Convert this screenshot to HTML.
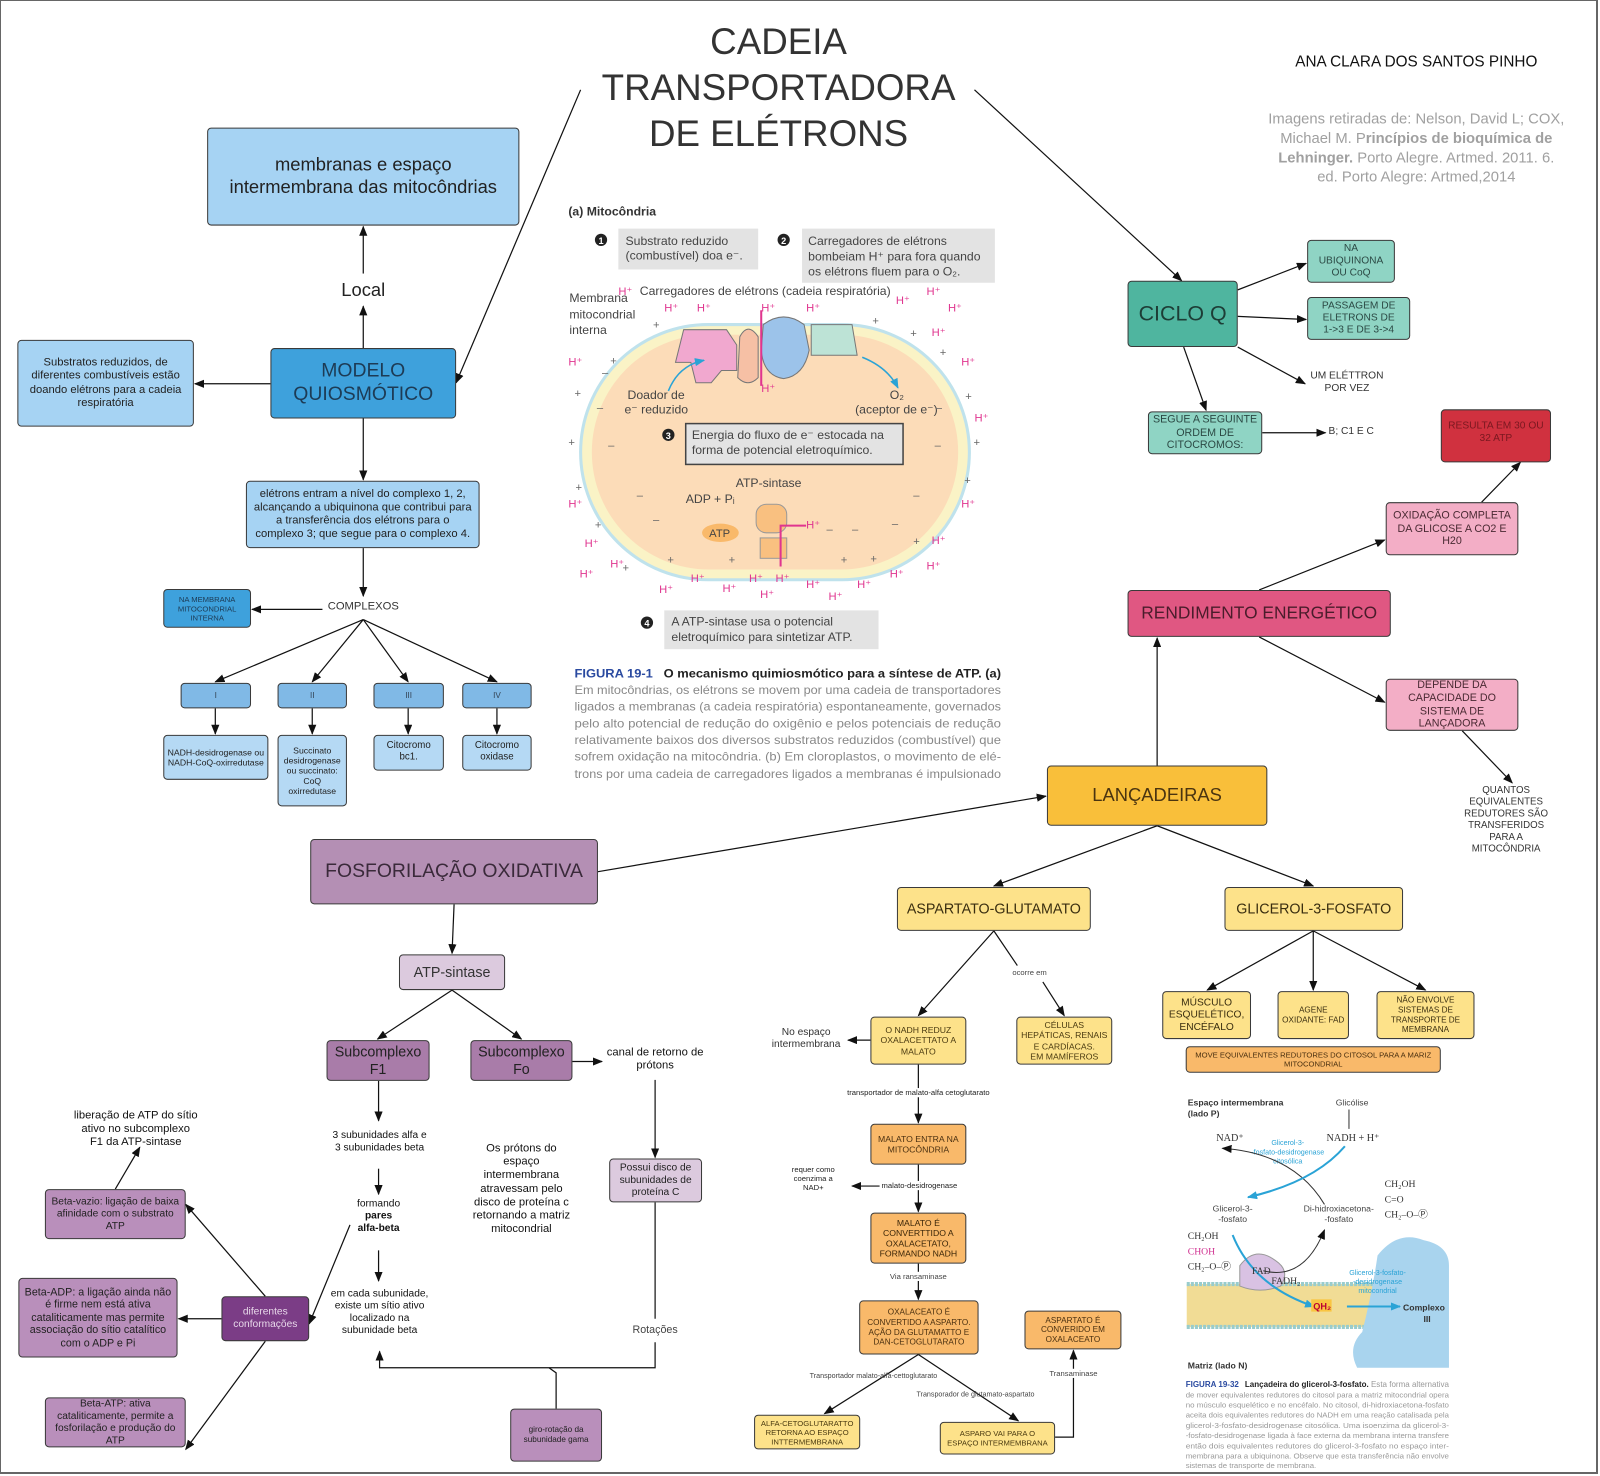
<!DOCTYPE html>
<html><head><meta charset="utf-8">
<style>
html,body{margin:0;padding:0;background:#fff;}
body{width:1600px;height:1476px;overflow:hidden;position:relative;font-family:"Liberation Sans",Arial,sans-serif;}
#frame{position:absolute;left:0;top:0;width:1598px;height:1474px;border:1px solid #666;border-width:1px 2px 2px 1px;box-sizing:border-box;}
#c{position:absolute;left:0;top:0;width:1568px;height:1446px;transform:scale(1.0204,1.0207);transform-origin:0 0;}
.b{position:absolute;display:flex;align-items:center;justify-content:center;text-align:center;box-sizing:border-box;border:1.5px solid #3a3a3a;border-radius:4px;color:#222;line-height:1.2;}
.t{position:absolute;text-align:center;color:#222;line-height:1.2;white-space:nowrap;}
svg{position:absolute;left:0;top:0;}
.lb{background:#a6d3f3;} .mb{background:#3ea1dc;} .cb{background:#80b9e6;} .sb{background:#b5d9f4;}
.tq{background:#8fd4c4;} .ph{background:#f3aec6;} .ye{background:#fde28a;} .or{background:#f9b96a;} .pu{background:#b48fb4;} .lp{background:#dccade;} .dp{background:#a97ca9;}
.fig{font-family:"Liberation Sans",sans-serif;}
</style></head><body>
<div id="frame"></div>
<div id="c">
<svg width="1568" height="1446" viewBox="0 0 1568 1446">
<defs><marker id="a" markerWidth="10" markerHeight="8" refX="9" refY="4" orient="auto" markerUnits="userSpaceOnUse"><path d="M0,0 L10,4 L0,8 z" fill="#111"/></marker>
<marker id="bl" markerWidth="10" markerHeight="8" refX="9" refY="4" orient="auto" markerUnits="userSpaceOnUse"><path d="M0,0 L10,4 L0,8 z" fill="#2aa3d6"/></marker></defs>
<g stroke="#111" stroke-width="1.2" fill="none" marker-end="url(#a)">
<line x1="569" y1="88" x2="447" y2="375"/>
<line x1="955" y1="88" x2="1158" y2="275"/>
<line x1="356" y1="341" x2="356" y2="300"/>
<line x1="356" y1="268" x2="356" y2="222"/>
<line x1="265" y1="376" x2="191" y2="376"/>
<line x1="356" y1="410" x2="356" y2="470"/>
<line x1="356" y1="537" x2="356" y2="584"/>
<line x1="316" y1="597" x2="247" y2="597"/>
<line x1="356" y1="607" x2="211" y2="668"/>
<line x1="356" y1="607" x2="306" y2="668"/>
<line x1="356" y1="607" x2="400" y2="668"/>
<line x1="356" y1="607" x2="487" y2="668"/>
<line x1="211" y1="694" x2="211" y2="719"/>
<line x1="306" y1="694" x2="306" y2="719"/>
<line x1="400" y1="694" x2="400" y2="719"/>
<line x1="487" y1="694" x2="487" y2="719"/>
<line x1="1213" y1="284" x2="1280" y2="258"/>
<line x1="1213" y1="310" x2="1280" y2="313"/>
<line x1="1213" y1="340" x2="1279" y2="376"/>
<line x1="1160" y1="340" x2="1182" y2="402"/>
<line x1="1237" y1="424" x2="1299" y2="424"/>
<line x1="1134" y1="750" x2="1134" y2="625"/>
<line x1="1234" y1="578" x2="1357" y2="529"/>
<line x1="1452" y1="492" x2="1490" y2="453"/>
<line x1="1234" y1="624" x2="1357" y2="688"/>
<line x1="1433" y1="716" x2="1482" y2="767"/>
<line x1="586" y1="854" x2="1025" y2="780"/>
<line x1="1134" y1="809" x2="974" y2="868"/>
<line x1="1134" y1="809" x2="1287" y2="868"/>
<line x1="974" y1="912" x2="900" y2="995"/>
<line x1="1022" y1="962" x2="1043" y2="995"/>
<line x1="853" y1="1019" x2="831" y2="1019"/>
<line x1="900" y1="1043" x2="900" y2="1100"/>
<line x1="900" y1="1141" x2="900" y2="1187"/>
<line x1="870" y1="1162" x2="835" y2="1162"/>
<line x1="900" y1="1238" x2="900" y2="1273"/>
<line x1="900" y1="1327" x2="808" y2="1385"/>
<line x1="900" y1="1327" x2="998" y2="1392"/>
<polyline points="1034,1408 1052,1408 1052,1323"/>
<line x1="1287" y1="912" x2="1183" y2="970"/>
<line x1="1287" y1="912" x2="1287" y2="970"/>
<line x1="1287" y1="912" x2="1397" y2="970"/>
<line x1="445" y1="886" x2="443" y2="934"/>
<line x1="443" y1="970" x2="370" y2="1018"/>
<line x1="443" y1="970" x2="511" y2="1018"/>
<line x1="561" y1="1040" x2="590" y2="1040"/>
<line x1="642" y1="1058" x2="642" y2="1134"/>
<polyline points="642,1315 642,1340 372,1340 372,1324"/>
<line x1="371" y1="1059" x2="371" y2="1098"/>
<line x1="371" y1="1145" x2="371" y2="1170"/>
<line x1="371" y1="1225" x2="371" y2="1255"/>
<line x1="343" y1="1200" x2="303" y2="1297"/>
<line x1="260" y1="1270" x2="182" y2="1180"/>
<line x1="113" y1="1165" x2="137" y2="1124"/>
<line x1="217" y1="1292" x2="175" y2="1292"/>
<line x1="260" y1="1314" x2="182" y2="1420"/>
</g>
<g stroke="#111" stroke-width="1.2" fill="none">
<line x1="974" y1="912" x2="997" y2="946"/>
<line x1="642" y1="1178" x2="642" y2="1292"/>
<polyline points="545,1380 545,1345 538,1340"/>
</g>

<!-- Mitochondrion figure -->
<g class="fig">
<text x="557" y="211" font-size="12" font-weight="bold" fill="#333">(a)  Mitocôndria</text>
<rect x="606" y="224" width="137" height="40" fill="#e3e3e3"/>
<rect x="786" y="224" width="189" height="53" fill="#e3e3e3"/>
<circle cx="589" cy="235" r="6" fill="#222"/><circle cx="768" cy="235" r="6" fill="#222"/>
<text x="589" y="239" font-size="9" fill="#fff" text-anchor="middle" font-weight="bold">1</text>
<text x="768" y="239" font-size="9" fill="#fff" text-anchor="middle" font-weight="bold">2</text>
<text font-size="12" fill="#444"><tspan x="613" y="240">Substrato reduzido</tspan><tspan x="613" y="254">(combustível) doa e⁻.</tspan></text>
<text font-size="12" fill="#444"><tspan x="792" y="240">Carregadores de elétrons</tspan><tspan x="792" y="255">bombeiam H⁺ para fora quando</tspan><tspan x="792" y="270">os elétrons fluem para o O₂.</tspan></text>
<rect x="569" y="318" width="381" height="250" rx="125" fill="#faf3c6" stroke="#bfe2ec" stroke-width="3"/>
<rect x="580" y="328" width="359" height="230" rx="115" fill="#fcdcb8"/>
<text font-size="12" fill="#444"><tspan x="558" y="296">Membrana</tspan><tspan x="558" y="312">mitocondrial</tspan><tspan x="558" y="327">interna</tspan></text>
<text x="627" y="289" font-size="12" fill="#444">Carregadores de elétrons (cadeia respiratória)</text>
<path d="M670,323 h42 l10,15 v25 h-15 l-10,12 h-15 l-5,-20 h-15 z" fill="#f1a8cf" stroke="#777"/>
<path d="M725,330 q8,-15 18,0 v40 q-10,10 -20,0 z" fill="#f6c0a5" stroke="#777"/>
<path d="M748,318 q20,-15 40,0 l5,25 q-5,25 -25,28 q-20,-3 -22,-28 z" fill="#9cc3ea" stroke="#777"/>
<path d="M795,318 h40 l5,30 h-45 z" fill="#bde3d6" stroke="#777"/>
<line x1="746" y1="378" x2="746" y2="304" stroke="#e0358f" stroke-width="2"/>
<text font-size="12" fill="#444"><tspan x="615" y="391">Doador de</tspan><tspan x="612" y="405">e⁻ reduzido</tspan></text>
<text font-size="12" fill="#444"><tspan x="872" y="391">O₂</tspan><tspan x="838" y="405">(aceptor de e⁻)</tspan></text>
<path d="M655,383 q10,-25 35,-30" stroke="#2aa3d6" fill="none" stroke-width="1.5" marker-end="url(#bl)"/>
<path d="M845,350 q25,10 35,30" stroke="#2aa3d6" fill="none" stroke-width="1.5" marker-end="url(#bl)"/>
<circle cx="655" cy="426" r="6" fill="#222"/><text x="655" y="430" font-size="9" fill="#fff" text-anchor="middle" font-weight="bold">3</text>
<rect x="672" y="415" width="213" height="40" fill="#e3e3e3" stroke="#444" stroke-width="1.5"/>
<text font-size="12" fill="#444"><tspan x="678" y="430">Energia do fluxo de e⁻ estocada na</tspan><tspan x="678" y="445">forma de potencial eletroquímico.</tspan></text>
<text x="721" y="477" font-size="12" fill="#444">ATP-sintase</text>
<text x="672" y="493" font-size="12" fill="#444">ADP + Pᵢ</text>
<ellipse cx="706" cy="522" rx="18" ry="9" fill="#f9b96a"/><text x="695" y="526" font-size="11" fill="#444">ATP</text>
<rect x="741" y="494" width="30" height="28" rx="10" fill="#f9c080" stroke="#999"/>
<rect x="745" y="527" width="26" height="20" fill="#f9c080" stroke="#999"/>
<path d="M765,555 v-40 h25" stroke="#e0358f" fill="none" stroke-width="2"/>
<g font-size="11" fill="#e0358f">
<text x="606" y="289">H⁺</text><text x="651" y="305">H⁺</text><text x="683" y="305">H⁺</text><text x="746" y="305">H⁺</text><text x="790" y="305">H⁺</text><text x="878" y="298">H⁺</text><text x="908" y="289">H⁺</text><text x="929" y="305">H⁺</text><text x="913" y="329">H⁺</text><text x="942" y="358">H⁺</text><text x="955" y="413">H⁺</text><text x="942" y="497">H⁺</text><text x="913" y="533">H⁺</text><text x="908" y="558">H⁺</text><text x="557" y="358">H⁺</text><text x="557" y="497">H⁺</text><text x="573" y="536">H⁺</text><text x="598" y="556">H⁺</text><text x="568" y="566">H⁺</text><text x="746" y="384">H⁺</text><text x="790" y="518">H⁺</text><text x="677" y="570">H⁺</text><text x="708" y="580">H⁺</text><text x="734" y="570">H⁺</text><text x="760" y="570">H⁺</text><text x="745" y="586">H⁺</text><text x="790" y="576">H⁺</text><text x="812" y="588">H⁺</text><text x="840" y="576">H⁺</text><text x="872" y="566">H⁺</text><text x="646" y="581">H⁺</text>
</g>
<g font-size="11" fill="#666"><text x="640" y="322">+</text><text x="598" y="357">+</text><text x="563" y="389">+</text><text x="557" y="437">+</text><text x="564" y="481">+</text><text x="583" y="518">+</text><text x="610" y="560">+</text><text x="654" y="552">+</text><text x="714" y="552">+</text><text x="824" y="552">+</text><text x="853" y="551">+</text><text x="895" y="534">+</text><text x="945" y="474">+</text><text x="954" y="437">+</text><text x="946" y="392">+</text><text x="921" y="349">+</text><text x="892" y="330">+</text><text x="855" y="318">+</text>
<text x="590" y="369">–</text><text x="585" y="403">–</text><text x="596" y="440">–</text><text x="917" y="403">–</text><text x="916" y="440">–</text><text x="895" y="489">–</text><text x="874" y="517">–</text><text x="835" y="522">–</text><text x="810" y="522">–</text><text x="624" y="489">–</text><text x="640" y="513">–</text></g>
<circle cx="634" cy="610" r="6" fill="#222"/><text x="634" y="614" font-size="9" fill="#fff" text-anchor="middle" font-weight="bold">4</text>
<rect x="651" y="598" width="210" height="38" fill="#e3e3e3"/>
<text font-size="12" fill="#444"><tspan x="658" y="613">A ATP-sintase usa o potencial</tspan><tspan x="658" y="628">eletroquímico para sintetizar ATP.</tspan></text>
<text x="563" y="664" font-size="12" font-weight="bold" textLength="418" lengthAdjust="spacingAndGlyphs"><tspan fill="#2a4aa0">FIGURA 19-1</tspan><tspan fill="#222" dx="10">O mecanismo quimiosmótico para a síntese de ATP.  (a)</tspan></text>
<g font-size="12" fill="#888">
<text x="563" y="680" textLength="418" lengthAdjust="spacingAndGlyphs">Em mitocôndrias, os elétrons se movem por uma cadeia de transportadores</text>
<text x="563" y="696" textLength="418" lengthAdjust="spacingAndGlyphs">ligados a membranas (a cadeia respiratória) espontaneamente, governados</text>
<text x="563" y="713" textLength="418" lengthAdjust="spacingAndGlyphs">pelo alto potencial de redução do oxigênio e pelos potenciais de redução</text>
<text x="563" y="729" textLength="418" lengthAdjust="spacingAndGlyphs">relativamente baixos dos diversos substratos reduzidos (combustível) que</text>
<text x="563" y="745" textLength="418" lengthAdjust="spacingAndGlyphs">sofrem oxidação na mitocôndria. (b) Em cloroplastos, o movimento de elé-</text>
<text x="563" y="762" textLength="418" lengthAdjust="spacingAndGlyphs">trons por uma cadeia de carregadores ligados a membranas é impulsionado</text>
</g>
</g>

<!-- Glycerol figure -->
<g class="fig">
<rect x="1163" y="1258" width="200" height="42" fill="#f1dc95"/>
<line x1="1163" y1="1258" x2="1363" y2="1258" stroke="#9cc" stroke-width="4" stroke-dasharray="3,1"/>
<line x1="1163" y1="1300" x2="1363" y2="1300" stroke="#9cc" stroke-width="4" stroke-dasharray="3,1"/>
<path d="M1350,1230 q20,-25 45,-15 q25,5 25,25 v100 h-90 q-10,-20 5,-35 q10,-40 15,-75 z" fill="#a9d4ee"/>
<path d="M1215,1240 q15,-20 35,-5 q15,10 5,25 q-20,8 -40,0 z" fill="#d9c2e3" stroke="#999"/>
<text font-size="8.5" font-weight="bold" fill="#333"><tspan x="1164" y="1083">Espaço intermembrana</tspan><tspan x="1164" y="1094">(lado P)</tspan><tspan x="1164" y="1341">Matriz (lado N)</tspan></text>
<text x="1309" y="1083" font-size="8.5" fill="#444">Glicólise</text>
<line x1="1322" y1="1087" x2="1322" y2="1106" stroke="#333"/>
<text font-family="Liberation Serif" font-size="10" fill="#333"><tspan x="1192" y="1118">NAD⁺</tspan><tspan x="1300" y="1118">NADH + H⁺</tspan></text>
<text font-size="7" fill="#2aa3d6" text-anchor="middle"><tspan x="1262" y="1122">Glicerol-3-</tspan><tspan x="1262" y="1131">-fosfato-desidrogenase</tspan><tspan x="1262" y="1140">citosólica</tspan><tspan x="1350" y="1249">Glicerol-3-fosfato-</tspan><tspan x="1350" y="1258">-desidrogenase</tspan><tspan x="1350" y="1267">mitocondrial</tspan></text>
<path d="M1298,1180 q-30,-50 -100,-55" stroke="#333" fill="none" marker-end="url(#a)"/>
<path d="M1318,1123 q-30,35 -95,50" stroke="#2aa3d6" stroke-width="2" fill="none" marker-end="url(#bl)"/>
<path d="M1238,1245 q40,10 60,-40" stroke="#333" fill="none" marker-end="url(#a)"/>
<path d="M1208,1210 q20,50 80,70" stroke="#2aa3d6" stroke-width="2" fill="none" marker-end="url(#bl)"/>
<line x1="1320" y1="1280" x2="1372" y2="1280" stroke="#2aa3d6" stroke-width="2" marker-end="url(#bl)"/>
<text font-size="8.5" fill="#444" text-anchor="middle"><tspan x="1208" y="1187">Glicerol-3-</tspan><tspan x="1208" y="1197">-fosfato</tspan><tspan x="1312" y="1187">Di-hidroxiacetona-</tspan><tspan x="1312" y="1197">-fosfato</tspan></text>
<text font-family="Liberation Serif" font-size="9.5" fill="#333"><tspan x="1357" y="1163">CH₂OH</tspan><tspan x="1357" y="1178">C=O</tspan><tspan x="1357" y="1193">CH₂–O–Ⓟ</tspan><tspan x="1164" y="1214">CH₂OH</tspan><tspan x="1164" y="1229" fill="#d03090">CHOH</tspan><tspan x="1164" y="1244">CH₂–O–Ⓟ</tspan><tspan x="1227" y="1248">FAD</tspan><tspan x="1246" y="1258">FADH₂</tspan></text>
<rect x="1285" y="1273" width="20" height="12" fill="#f9c542"/>
<text x="1287" y="1283" font-size="9" font-weight="bold" fill="#b03">QH₂</text>
<text font-size="8.5" font-weight="bold" fill="#333"><tspan x="1375" y="1284">Complexo</tspan><tspan x="1395" y="1295">III</tspan></text>
<text x="1162" y="1359" font-size="8" font-weight="bold" textLength="258" lengthAdjust="spacingAndGlyphs"><tspan fill="#2a4aa0">FIGURA 19-32</tspan><tspan fill="#222" dx="6">Lançadeira do glicerol-3-fosfato.</tspan><tspan fill="#999" font-weight="normal"> Esta forma alternativa</tspan></text>
<g font-size="7.6" fill="#999">
<text x="1162" y="1369" textLength="258" lengthAdjust="spacingAndGlyphs">de mover equivalentes redutores do citosol para a matriz mitocondrial opera</text>
<text x="1162" y="1379" textLength="258" lengthAdjust="spacingAndGlyphs">no músculo esquelético e no encéfalo. No citosol, di-hidroxiacetona-fosfato</text>
<text x="1162" y="1389" textLength="258" lengthAdjust="spacingAndGlyphs">aceita dois equivalentes redutores do NADH em uma reação catalisada pela</text>
<text x="1162" y="1399" textLength="258" lengthAdjust="spacingAndGlyphs">glicerol-3-fosfato-desidrogenase citosólica. Uma isoenzima da glicerol-3-</text>
<text x="1162" y="1409" textLength="258" lengthAdjust="spacingAndGlyphs">-fosfato-desidrogenase ligada à face externa da membrana interna transfere</text>
<text x="1162" y="1419" textLength="258" lengthAdjust="spacingAndGlyphs">então dois equivalentes redutores do glicerol-3-fosfato no espaço inter-</text>
<text x="1162" y="1429" textLength="258" lengthAdjust="spacingAndGlyphs">membrana para a ubiquinona. Observe que esta transferência não envolve</text>
<text x="1162" y="1438">sistemas de transporte de membrana.</text>
</g>
</g>
</svg>

<div class="t" style="left:560px;top:18px;width:406px;font-size:36px;color:#333;line-height:45px;">CADEIA<br>TRANSPORTADORA<br>DE ELÉTRONS</div>
<div class="t" style="left:1230px;top:52px;width:316px;font-size:15px;color:#111;">ANA CLARA DOS SANTOS PINHO</div>
<div class="t" style="left:1220px;top:108px;width:336px;font-size:14.5px;color:#a0a0a0;line-height:1.3;">Imagens retiradas de: Nelson, David L; COX,<br>Michael M. P<b>rincípios de bioquímica de</b><br><b>Lehninger.</b> Porto Alegre. Artmed. 2011. 6.<br>ed. Porto Alegre: Artmed,2014</div>

<div class="b lb" style="left:203px;top:125px;width:306px;height:96px;font-size:18px;">membranas e espaço<br>intermembrana das mitocôndrias</div>
<div class="t" style="left:316px;top:274px;width:80px;font-size:18px;">Local</div>
<div class="b mb" style="left:265px;top:341px;width:182px;height:69px;font-size:19px;color:#1d3b55;">MODELO<br>QUIOSMÓTICO</div>
<div class="b lb" style="left:17px;top:333px;width:173px;height:85px;font-size:11px;">Substratos reduzidos, de<br>diferentes combustíveis estão<br>doando elétrons para a cadeia<br>respiratória</div>
<div class="b lb" style="left:241px;top:471px;width:229px;height:66px;font-size:11px;">elétrons entram a nível do complexo 1, 2,<br>alcançando a ubiquinona que contribui para<br>a transferência dos elétrons para o<br>complexo 3; que segue para o complexo 4.</div>
<div class="t" style="left:306px;top:588px;width:100px;font-size:11px;color:#333;">COMPLEXOS</div>
<div class="b mb" style="left:160px;top:577px;width:86px;height:38px;font-size:7.5px;color:#1d3b55;">NA MEMBRANA<br>MITOCONDRIAL<br>INTERNA</div>
<div class="b cb" style="left:177px;top:669px;width:69px;height:25px;font-size:8px;color:#345;">I</div>
<div class="b cb" style="left:272px;top:669px;width:68px;height:25px;font-size:8px;color:#345;">II</div>
<div class="b cb" style="left:366px;top:669px;width:69px;height:25px;font-size:8px;color:#345;">III</div>
<div class="b cb" style="left:453px;top:669px;width:68px;height:25px;font-size:8px;color:#345;">IV</div>
<div class="b sb" style="left:160px;top:720px;width:103px;height:44px;font-size:8.5px;">NADH-desidrogenase ou<br>NADH-CoQ-oxirredutase</div>
<div class="b sb" style="left:272px;top:720px;width:68px;height:70px;font-size:8.5px;">Succinato<br>desidrogenase<br>ou succinato:<br>CoQ<br>oxirredutase</div>
<div class="b sb" style="left:366px;top:720px;width:69px;height:35px;font-size:9.5px;align-items:flex-start;padding-top:4px;">Citocromo<br>bc1.</div>
<div class="b sb" style="left:453px;top:720px;width:68px;height:35px;font-size:9.5px;align-items:flex-start;padding-top:4px;">Citocromo<br>oxidase</div>

<div class="b" style="left:1105px;top:275px;width:108px;height:65px;font-size:21px;background:#4fb59f;color:#1d3d36;">CICLO Q</div>
<div class="b tq" style="left:1281px;top:235px;width:86px;height:42px;font-size:10px;color:#2c4a45;">NA<br>UBIQUINONA<br>OU CoQ</div>
<div class="b tq" style="left:1281px;top:291px;width:101px;height:42px;font-size:10px;color:#2c4a45;">PASSAGEM DE<br>ELETRONS DE<br>1-&gt;3 E DE 3-&gt;4</div>
<div class="t" style="left:1280px;top:363px;width:80px;font-size:10px;color:#333;">UM ELÉTTRON<br>POR VEZ</div>
<div class="b tq" style="left:1125px;top:403px;width:112px;height:42px;font-size:10.5px;color:#2c4a45;">SEGUE A SEGUINTE<br>ORDEM DE<br>CITOCROMOS:</div>
<div class="t" style="left:1302px;top:417px;width:50px;font-size:10px;color:#333;text-align:left;">B; C1 E C</div>
<div class="b" style="left:1412px;top:401px;width:108px;height:52px;font-size:10px;background:#d0313f;color:#7a1820;align-items:flex-start;padding-top:10px;">RESULTA EM 30 OU<br>32 ATP</div>
<div class="b ph" style="left:1358px;top:492px;width:130px;height:52px;font-size:10.5px;color:#4a2a33;">OXIDAÇÃO COMPLETA<br>DA GLICOSE A CO2 E<br>H20</div>
<div class="b" style="left:1105px;top:578px;width:258px;height:46px;font-size:17px;background:#e05782;color:#4a1c2b;">RENDIMENTO ENERGÉTICO</div>
<div class="b ph" style="left:1358px;top:665px;width:130px;height:51px;font-size:10.5px;color:#4a2a33;">DEPENDE DA<br>CAPACIDADE DO<br>SISTEMA DE<br>LANÇADORA</div>
<div class="t" style="left:1426px;top:769px;width:100px;font-size:9.5px;color:#333;line-height:1.2;">QUANTOS<br>EQUIVALENTES<br>REDUTORES SÃO<br>TRANSFERIDOS<br>PARA A<br>MITOCÔNDRIA</div>
<div class="b" style="left:1026px;top:750px;width:216px;height:59px;font-size:18px;background:#f9bf3a;color:#4a3410;">LANÇADEIRAS</div>
<div class="b pu" style="left:304px;top:822px;width:282px;height:64px;font-size:19px;color:#3a2a3a;">FOSFORILAÇÃO OXIDATIVA</div>
<div class="b ye" style="left:879px;top:869px;width:190px;height:43px;font-size:14px;color:#3a2e10;">ASPARTATO-GLUTAMATO</div>
<div class="b ye" style="left:1200px;top:869px;width:175px;height:43px;font-size:14px;color:#3a2e10;">GLICEROL-3-FOSFATO</div>
<div class="t" style="left:985px;top:948px;width:48px;font-size:7.5px;color:#444;background:#fff;">ocorre em</div>
<div class="b ye" style="left:853px;top:996px;width:94px;height:47px;font-size:8.5px;color:#4a3a10;">O NADH REDUZ<br>OXALACETTATO A<br>MALATO</div>
<div class="b ye" style="left:996px;top:996px;width:94px;height:47px;font-size:8.5px;color:#4a3a10;">CÉLULAS<br>HEPÁTICAS, RENAIS<br>E CARDÍACAS.<br>EM MAMÍFEROS</div>
<div class="t" style="left:748px;top:1006px;width:84px;font-size:10px;color:#333;">No espaço<br>intermembrana</div>
<div class="t" style="left:810px;top:1066px;width:180px;font-size:7.5px;color:#222;background:#fff;">transportador de malato-alfa cetoglutarato</div>
<div class="b or" style="left:853px;top:1101px;width:94px;height:40px;font-size:8.5px;color:#4a3010;">MALATO ENTRA NA<br>MITOCÔNDRIA</div>
<div class="t" style="left:765px;top:1141px;width:64px;font-size:7.5px;color:#222;">requer como<br>coenzima a<br>NAD+</div>
<div class="t" style="left:862px;top:1157px;width:78px;font-size:7.5px;color:#222;background:#fff;">malato-desidrogenase</div>
<div class="b or" style="left:853px;top:1188px;width:94px;height:50px;font-size:8.5px;color:#3a2508;">MALATO É<br>CONVERTTIDO A<br>OXALACETATO,<br>FORMANDO NADH</div>
<div class="t" style="left:866px;top:1246px;width:68px;font-size:7.5px;color:#444;background:#fff;">Via ransaminase</div>
<div class="b or" style="left:842px;top:1274px;width:117px;height:53px;font-size:8px;color:#4a3010;">OXALACEATO É<br>CONVERTIDO  A ASPARTO.<br>AÇÃO DA GLUTAMATTO E<br>DAN-CETOGLUTARATO</div>
<div class="b or" style="left:1004px;top:1284px;width:95px;height:38px;font-size:8px;color:#4a3010;">ASPARTATO É<br>CONVERIDO EM<br>OXALACEATO</div>
<div class="t" style="left:1022px;top:1341px;width:60px;font-size:7.5px;color:#444;background:#fff;">Transaminase</div>
<div class="t" style="left:785px;top:1345px;width:142px;font-size:7px;color:#444;">Transportador malato-alfa-cettoglutarato</div>
<div class="t" style="left:890px;top:1363px;width:132px;font-size:7px;color:#444;">Transporador de glutamato-aspartato</div>
<div class="b ye" style="left:739px;top:1386px;width:104px;height:34px;font-size:7.5px;color:#4a3a10;">ALFA-CETOGLUTARATTO<br>RETORNA AO ESPAÇO<br>INTTERMEMBRANA</div>
<div class="b ye" style="left:921px;top:1393px;width:113px;height:32px;font-size:7.5px;color:#4a3a10;">ASPARO VAI PARA O<br>ESPAÇO INTERMEMBRANA</div>

<div class="b ye" style="left:1139px;top:971px;width:87px;height:47px;font-size:10px;color:#3a2e10;">MÚSCULO<br>ESQUELÉTICO,<br>ENCÉFALO</div>
<div class="b ye" style="left:1252px;top:971px;width:70px;height:47px;font-size:8px;color:#3a2e10;">AGENE<br>OXIDANTE: FAD</div>
<div class="b ye" style="left:1349px;top:971px;width:96px;height:47px;font-size:8px;color:#3a2e10;">NÃO ENVOLVE<br>SISTEMAS DE<br>TRANSPORTE DE<br>MEMBRANA</div>
<div class="b or" style="left:1162px;top:1025px;width:250px;height:26px;font-size:7.5px;color:#4a3010;">MOVE EQUIVALENTES REDUTORES DO CITOSOL PARA A MARIZ<br>MITOCONDRIAL</div>

<div class="b lp" style="left:391px;top:935px;width:104px;height:35px;font-size:14px;color:#333;">ATP-sintase</div>
<div class="b dp" style="left:320px;top:1019px;width:101px;height:40px;font-size:14px;color:#222;">Subcomplexo<br>F1</div>
<div class="b dp" style="left:461px;top:1019px;width:100px;height:40px;font-size:14px;color:#222;">Subcomplexo<br>Fo</div>
<div class="t" style="left:590px;top:1025px;width:104px;font-size:11px;color:#111;">canal de retorno de<br>prótons</div>
<div class="b lp" style="left:597px;top:1135px;width:91px;height:43px;font-size:10px;color:#222;">Possui disco de<br>subunidades de<br>proteína C</div>
<div class="t" style="left:312px;top:1107px;width:120px;font-size:10px;color:#111;">3 subunidades alfa e<br>3 subunidades beta</div>
<div class="t" style="left:331px;top:1174px;width:80px;font-size:10px;color:#111;">formando<br><b>pares<br>alfa-beta</b></div>
<div class="t" style="left:307px;top:1262px;width:130px;font-size:10px;color:#111;">em cada subunidade,<br>existe um sítio ativo<br>localizado na<br>subunidade beta</div>
<div class="t" style="left:451px;top:1119px;width:120px;font-size:11px;color:#111;">Os prótons do<br>espaço<br>intermembrana<br>atravessam pelo<br>disco de proteína c<br>retornando a matriz<br>mitocondrial</div>
<div class="t" style="left:610px;top:1297px;width:64px;font-size:10.5px;color:#444;background:#fff;">Rotações</div>
<div class="t" style="left:58px;top:1087px;width:150px;font-size:11px;color:#111;">liberação de ATP do sítio<br>ativo no subcomplexo<br>F1 da ATP-sintase</div>
<div class="b dp" style="left:44px;top:1165px;width:138px;height:49px;font-size:10px;background:#b98fbb;">Beta-vazio: ligação de baixa<br>afinidade com o substrato<br>ATP</div>
<div class="b dp" style="left:18px;top:1252px;width:156px;height:78px;font-size:10.5px;background:#b98fbb;">Beta-ADP: a ligação ainda não<br>é firme nem está ativa<br>cataliticamente mas permite<br>associação do sítio catalítico<br>com o ADP e Pi</div>
<div class="b" style="left:217px;top:1270px;width:86px;height:44px;font-size:10px;background:#7b3d86;color:#e8d8ea;">diferentes<br>conformações</div>
<div class="b dp" style="left:44px;top:1369px;width:138px;height:49px;font-size:10px;background:#b98fbb;">Beta-ATP:  ativa<br>cataliticamente, permite a<br>fosforilação e produção do<br>ATP</div>
<div class="b dp" style="left:500px;top:1380px;width:90px;height:52px;font-size:8px;background:#b98fbb;">giro-rotação da<br>subunidade gama</div>
</div>
</body></html>
